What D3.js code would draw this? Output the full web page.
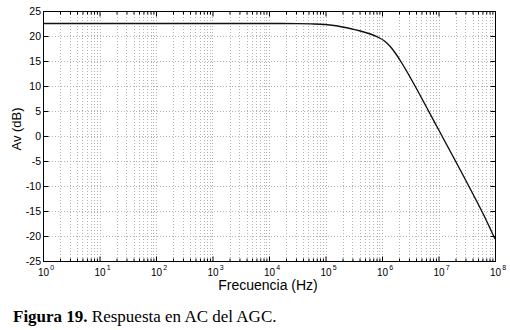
<!DOCTYPE html>
<html>
<head>
<meta charset="utf-8">
<script src="https://cdn.jsdelivr.net/npm/d3@7"></script>
<style>
body { margin: 0; background: #fff; }
svg { display: block; }
</style>
</head>
<body>
<div id="chart"></div>
<script>
// values (frequency in Hz as log10, gain in dB)
var logFreq = [0, 1, 2, 3, 4, 4.5, 4.75, 5.0, 5.15, 5.3, 5.45, 5.6, 5.75, 5.85, 5.95, 6.05, 6.15, 6.25, 6.35, 6.45, 6.58, 6.8, 7.0, 7.2, 7.4, 7.6, 7.8, 8.0];
var gainDb  = [22.5, 22.5, 22.5, 22.5, 22.5, 22.48, 22.43, 22.3, 22.1, 21.8, 21.45, 21.05, 20.55, 20.15, 19.65, 18.95, 17.85, 16.35, 14.6, 12.7, 10.1, 5.5, 1.3, -2.9, -7.1, -11.4, -15.8, -20.6];
var xTickExp = [0, 1, 2, 3, 4, 5, 6, 7, 8];
var yTicks = [-25, -20, -15, -10, -5, 0, 5, 10, 15, 20, 25];

var width = 510, height = 330;
var pLeft = 43, pRight = 495, pTop = 11, pBottom = 261;

var svg = d3.select("#chart").append("svg")
	.attr("width", width)
	.attr("height", height);

var x = d3.scaleLog().domain([1, 1e8]).range([pLeft, pRight]);
var y = d3.scaleLinear().domain([-25, 25]).range([pBottom, pTop]);

var majors = xTickExp.map(function(e){ return Math.pow(10, e); });
var minors = [];
majors.slice(0, -1).forEach(function(m){
	for (var k = 2; k <= 9; k++) minors.push(m * k);
});
var allX = majors.concat(minors);

// grid
var grid = svg.append("g")
	.attr("stroke", "#b4b4b4")
	.attr("stroke-width", 1)
	.attr("stroke-dasharray", "1,2");
grid.selectAll(".vx").data(allX.filter(function(d){ return d > 1 && d < 1e8; }))
	.enter().append("line")
	.attr("x1", function(d){ return Math.round(x(d)) + 0.5; })
	.attr("x2", function(d){ return Math.round(x(d)) + 0.5; })
	.attr("y1", pTop).attr("y2", pBottom);
grid.selectAll(".hy").data(yTicks.filter(function(d){ return d > -25 && d < 25; }))
	.enter().append("line")
	.attr("y1", function(d){ return Math.round(y(d)) + 0.5; })
	.attr("y2", function(d){ return Math.round(y(d)) + 0.5; })
	.attr("x1", pLeft).attr("x2", pRight);

// axes with inward ticks
function styleAxis(g) {
	g.select(".domain").remove();
	g.selectAll("line").attr("stroke", "#000").attr("stroke-width", 1);
	g.selectAll("text").remove();
}
svg.append("g").attr("transform", "translate(0," + (pBottom + 0.5) + ")")
	.call(d3.axisBottom(x).tickValues(majors).tickSize(-5)).call(styleAxis);
svg.append("g").attr("transform", "translate(0," + (pBottom + 0.5) + ")")
	.call(d3.axisBottom(x).tickValues(minors).tickSize(-3)).call(styleAxis);
svg.append("g").attr("transform", "translate(0," + (pTop + 0.5) + ")")
	.call(d3.axisTop(x).tickValues(majors).tickSize(-5)).call(styleAxis);
svg.append("g").attr("transform", "translate(0," + (pTop + 0.5) + ")")
	.call(d3.axisTop(x).tickValues(minors).tickSize(-3)).call(styleAxis);
svg.append("g").attr("transform", "translate(" + (pLeft + 0.5) + ",0)")
	.call(d3.axisLeft(y).tickValues(yTicks).tickSize(-5)).call(styleAxis);
svg.append("g").attr("transform", "translate(" + (pRight + 0.5) + ",0)")
	.call(d3.axisRight(y).tickValues(yTicks).tickSize(-5)).call(styleAxis);

svg.append("rect")
	.attr("x", pLeft + 0.5).attr("y", pTop + 0.5)
	.attr("width", pRight - pLeft).attr("height", pBottom - pTop)
	.attr("fill", "none").attr("stroke", "#000").attr("stroke-width", 1);

// tick labels
svg.selectAll(".yl").data(yTicks).enter().append("text")
	.attr("x", pLeft - 2)
	.attr("y", function(d){ return y(d) + 4; })
	.attr("text-anchor", "end")
	.attr("font-family", "Liberation Sans, Arial, sans-serif")
	.attr("font-size", "10.5px")
	.attr("fill", "#000")
	.text(function(d){ return d; });

var xl = svg.selectAll(".xl").data(xTickExp).enter().append("text")
	.attr("x", function(d){ return x(Math.pow(10, d)) - 5; })
	.attr("y", pBottom + 15)
	.attr("font-family", "Liberation Sans, Arial, sans-serif")
	.attr("font-size", "10px")
	.attr("fill", "#000");
xl.append("tspan").text("10");
xl.append("tspan")
	.attr("dx", 1)
	.attr("dy", -6)
	.attr("font-size", "7px")
	.text(function(d){ return d; });

// curve
var pts = logFreq.map(function(l, i){ return [Math.pow(10, l), gainDb[i]]; });
var line = d3.line()
	.x(function(d){ return x(d[0]); })
	.y(function(d){ return y(d[1]); })
	.curve(d3.curveMonotoneX);
svg.append("path")
	.datum(pts)
	.attr("d", line)
	.attr("fill", "none")
	.attr("stroke", "#111")
	.attr("stroke-width", 1.4);

// axis titles
svg.append("text")
	.attr("x", 268).attr("y", 290)
	.attr("text-anchor", "middle")
	.attr("font-family", "Liberation Sans, Arial, sans-serif")
	.attr("font-size", "14px")
	.attr("fill", "#000")
	.text("Frecuencia (Hz)");
svg.append("text")
	.attr("transform", "translate(21,129) rotate(-90)")
	.attr("text-anchor", "middle")
	.attr("font-family", "Liberation Sans, Arial, sans-serif")
	.attr("font-size", "13px")
	.attr("fill", "#000")
	.text("Av (dB)");

// caption
var cap = svg.append("text")
	.attr("x", 13).attr("y", 322)
	.attr("font-family", "Liberation Serif, Times New Roman, serif")
	.attr("font-size", "17px")
	.attr("fill", "#000");
cap.append("tspan").attr("font-weight", "bold").text("Figura 19.");
cap.append("tspan").text(" Respuesta en AC del AGC.");
</script>
</body>
</html>
